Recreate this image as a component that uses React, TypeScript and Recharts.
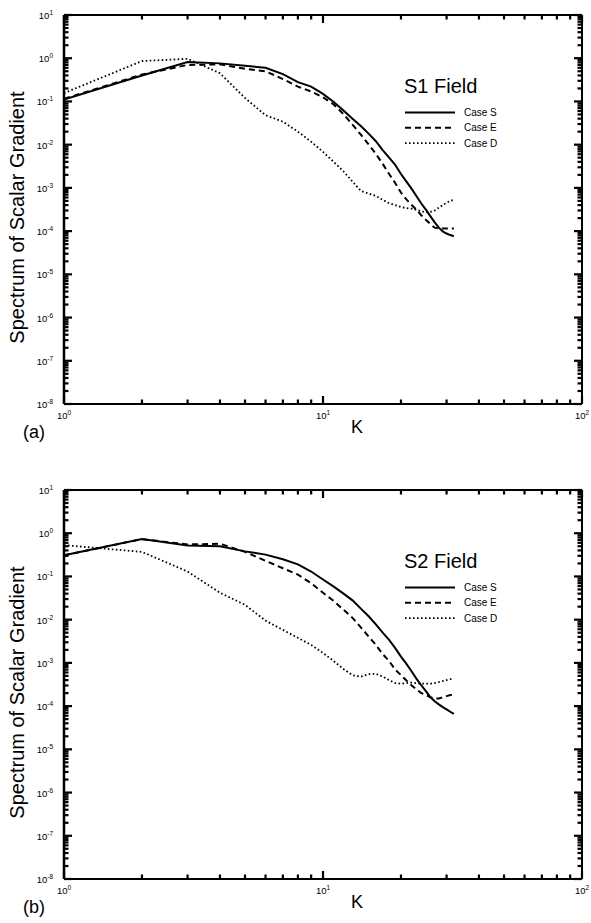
import React from 'react';
import { LineChart, Line, XAxis, YAxis, Legend, Label } from 'recharts';

// Wavenumbers
const kValues = [1, 2, 3, 4, 5, 6, 7, 8, 9, 10, 11, 12, 13, 14, 15, 16, 17, 18, 19, 20, 21, 22, 23, 24, 25, 26, 27, 28, 29, 30, 31, 32];

// (a) S1 field
const s1CaseS = [0.11, 0.40, 0.82, 0.76, 0.67, 0.60, 0.43, 0.28, 0.22, 0.15, 0.097, 0.062, 0.040, 0.027, 0.018, 0.012, 0.0075, 0.0050, 0.0034, 0.0021, 0.0014, 0.00095, 0.00063, 0.00043, 0.00031, 0.00022, 0.00016, 0.00012, 0.000098, 0.000088, 0.000081, 0.000076];
const s1CaseE = [0.115, 0.42, 0.70, 0.72, 0.57, 0.50, 0.33, 0.22, 0.17, 0.125, 0.085, 0.051, 0.029, 0.017, 0.0102, 0.0061, 0.0036, 0.0021, 0.0013, 0.00078, 0.00054, 0.0004, 0.00031, 0.00023, 0.00018, 0.000145, 0.00012, 0.000115, 0.000115, 0.000115, 0.000115, 0.000115];
const s1CaseD = [0.156, 0.86, 0.97, 0.45, 0.12, 0.048, 0.034, 0.02, 0.0117, 0.0068, 0.004, 0.0024, 0.0014, 0.00085, 0.00074, 0.00065, 0.00053, 0.00044, 0.0004, 0.00036, 0.00034, 0.00033, 0.00031, 0.00029, 0.00027, 0.00028, 0.0003, 0.00035, 0.0004, 0.00045, 0.0005, 0.00053];

// (b) S2 field
const s2CaseS = [0.31, 0.73, 0.52, 0.50, 0.38, 0.32, 0.25, 0.19, 0.13, 0.085, 0.058, 0.04, 0.028, 0.018, 0.012, 0.0078, 0.005, 0.0034, 0.0022, 0.0014, 0.00095, 0.00063, 0.00042, 0.0003, 0.00022, 0.00016, 0.00013, 0.00011, 0.000095, 0.000084, 0.000074, 0.000066];
const s2CaseE = [0.31, 0.73, 0.55, 0.57, 0.37, 0.23, 0.155, 0.11, 0.07, 0.042, 0.027, 0.017, 0.011, 0.0066, 0.0041, 0.0026, 0.0016, 0.0011, 0.0007, 0.00052, 0.00039, 0.0003, 0.00024, 0.0002, 0.00018, 0.00016, 0.00015, 0.00015, 0.00016, 0.00017, 0.00018, 0.00018];
const s2CaseD = [0.53, 0.37, 0.13, 0.042, 0.022, 0.0095, 0.0058, 0.0038, 0.0026, 0.0017, 0.0011, 0.00072, 0.00052, 0.00048, 0.00055, 0.00056, 0.00048, 0.0004, 0.00034, 0.00033, 0.00034, 0.00035, 0.00034, 0.00033, 0.00033, 0.00033, 0.00034, 0.00036, 0.00038, 0.0004, 0.00042, 0.00043];

// Axes ticks
const xTickValues = [1, 2, 3, 4, 5, 6, 7, 8, 9, 10, 20, 30, 40, 50, 60, 70, 80, 90, 100];
const yDecades = [-8, -7, -6, -5, -4, -3, -2, -1, 0];
const minorMultipliers = [1, 2, 3, 4, 5, 6, 7, 8, 9];
const yTickValues = [
  ...yDecades.flatMap((e) => minorMultipliers.map((m) => Number((m * Math.pow(10, e)).toPrecision(3)))),
  10,
];

const seriesNames = ['Case S', 'Case E', 'Case D'];
const axisLabelY = 'Spectrum of Scalar Gradient';
const axisLabelX = 'K';

const FONT = '"Liberation Sans", Arial, Helvetica, sans-serif';

const seriesStyles = [
  { key: 'caseS', dash: undefined as string | undefined, width: 2 },
  { key: 'caseE', dash: '6 4', width: 2 },
  { key: 'caseD', dash: '1.6 2.4', width: 1.8 },
];

const buildData = (s: number[], e: number[], d: number[]) =>
  kValues.map((k, i) => ({ k, caseS: s[i], caseE: e[i], caseD: d[i] }));

const panels = [
  { title: 'S1 Field', tag: '(a)', data: buildData(s1CaseS, s1CaseE, s1CaseD), top: 0, height: 460, mBottom: 55 },
  { title: 'S2 Field', tag: '(b)', data: buildData(s2CaseS, s2CaseE, s2CaseD), top: 475, height: 448, mBottom: 43 },
];

const isMajor = (v: number) => {
  const l = Math.log10(v);
  return Math.abs(l - Math.round(l)) < 1e-6;
};

const PowerLabel = ({ x, y, exp, anchor }: any) => (
  <text x={x} y={y} textAnchor={anchor} fontFamily={FONT} fontSize={9.5} fill="#000">
    <tspan>10</tspan>
    <tspan dy={-4} fontSize={6.5}>{String(exp)}</tspan>
  </text>
);

const TICK_COLOR = '#000';
const TICK_W = 2.2;
const MAJOR = 8;
const MINOR = 4.5;

const renderBottomTick = (props: any) => {
  const x = Number(props.x);
  const y = Number(props.y);
  const major = isMajor(props.payload.value);
  const len = major ? MAJOR : MINOR;
  return (
    <g>
      <rect x={x - TICK_W / 2} y={y - len} width={TICK_W} height={len} fill={TICK_COLOR} />
      {major && <PowerLabel x={x} y={y + 15} exp={Math.round(Math.log10(props.payload.value))} anchor="middle" />}
    </g>
  );
};

const renderTopTick = (props: any) => {
  const x = Number(props.x);
  const y = Number(props.y);
  const len = isMajor(props.payload.value) ? MAJOR : MINOR;
  return <rect x={x - TICK_W / 2} y={y} width={TICK_W} height={len} fill={TICK_COLOR} />;
};

const renderLeftTick = (props: any) => {
  const x = Number(props.x);
  const y = Number(props.y);
  const major = isMajor(props.payload.value);
  const len = major ? MAJOR : MINOR;
  return (
    <g>
      <rect x={x} y={y - TICK_W / 2} width={len} height={TICK_W} fill={TICK_COLOR} />
      {major && <PowerLabel x={x - 11} y={y + 4} exp={Math.round(Math.log10(props.payload.value))} anchor="end" />}
    </g>
  );
};

const renderRightTick = (props: any) => {
  const x = Number(props.x);
  const y = Number(props.y);
  const len = isMajor(props.payload.value) ? MAJOR : MINOR;
  return <rect x={x - len} y={y - TICK_W / 2} width={len} height={TICK_W} fill={TICK_COLOR} />;
};

const makeLegend = (title: string) => () => (
  <svg width={150} height={82} style={{ display: 'block', overflow: 'visible' }}>
    <text x={0} y={23} fontFamily={FONT} fontSize={20} fill="#000">{title}</text>
    {seriesStyles.map((s, i) => {
      const ry = 42.5 + i * 15.3;
      return (
        <g key={s.key}>
          <line x1={1} y1={ry} x2={51} y2={ry} stroke="#000" strokeWidth={s.width} strokeDasharray={s.dash} />
          <text x={60} y={ry + 3.5} fontFamily={FONT} fontSize={10} fill="#000">{seriesNames[i]}</text>
        </g>
      );
    })}
  </svg>
);

const Panel = ({ panel }: any) => {
  const yTitle = ({ viewBox }: any) => {
    const cx = viewBox.x + viewBox.width - 40;
    const cy = viewBox.y + viewBox.height / 2 + 8;
    return (
      <text x={cx} y={cy} transform={`rotate(-90 ${cx} ${cy})`} textAnchor="middle" fontFamily={FONT} fontSize={20} fill="#000">
        {axisLabelY}
      </text>
    );
  };
  const xTitle = ({ viewBox }: any) => (
    <g>
      <text x={viewBox.x + 293} y={viewBox.y + 29} textAnchor="middle" fontFamily={FONT} fontSize={18} fill="#000">
        {axisLabelX}
      </text>
      <text x={viewBox.x - 41} y={viewBox.y + 34} fontFamily={FONT} fontSize={18} fill="#000">
        {panel.tag}
      </text>
    </g>
  );
  return (
    <div style={{ position: 'absolute', left: 0, top: panel.top }}>
      <LineChart width={591} height={panel.height} data={panel.data} margin={{ top: 14, right: 8, bottom: panel.mBottom, left: 63 }}>
        <XAxis dataKey="k" type="number" scale="log" domain={[1, 100]} allowDataOverflow ticks={xTickValues} interval={0}
          height={1} tickSize={0} tickMargin={0} tickLine={false} tick={renderBottomTick} axisLine={{ stroke: '#000', strokeWidth: 2 }}>
          <Label content={xTitle} />
        </XAxis>
        <XAxis xAxisId="top" orientation="top" dataKey="k" type="number" scale="log" domain={[1, 100]} allowDataOverflow ticks={xTickValues} interval={0}
          height={1} tickSize={0} tickMargin={0} tickLine={false} tick={renderTopTick} axisLine={{ stroke: '#000', strokeWidth: 1.8 }} />
        <YAxis type="number" scale="log" domain={[1e-8, 10]} allowDataOverflow ticks={yTickValues} interval={0}
          width={1} tickSize={0} tickMargin={0} tickLine={false} tick={renderLeftTick} axisLine={{ stroke: '#000', strokeWidth: 2.5 }}>
          <Label content={yTitle} />
        </YAxis>
        <YAxis yAxisId="right" orientation="right" type="number" scale="log" domain={[1e-8, 10]} allowDataOverflow ticks={yTickValues} interval={0}
          width={1} tickSize={0} tickMargin={0} tickLine={false} tick={renderRightTick} axisLine={{ stroke: '#000', strokeWidth: 2 }} />
        <Legend layout="vertical" align="center" verticalAlign="middle" content={makeLegend(panel.title)}
          wrapperStyle={{ left: 404, top: 70, width: 150, height: 82 }} />
        {seriesStyles.map((s, i) => (
          <Line key={s.key} dataKey={s.key} name={seriesNames[i]} type="linear" stroke="#000" strokeWidth={s.width}
            strokeDasharray={s.dash} dot={false} activeDot={false} isAnimationActive={false} />
        ))}
      </LineChart>
    </div>
  );
};

export default function App() {
  return (
    <div style={{ position: 'absolute', left: 0, top: 0, width: 591, height: 923, background: '#fff' }}>
      {panels.map((p) => (
        <Panel key={p.tag} panel={p} />
      ))}
    </div>
  );
}
